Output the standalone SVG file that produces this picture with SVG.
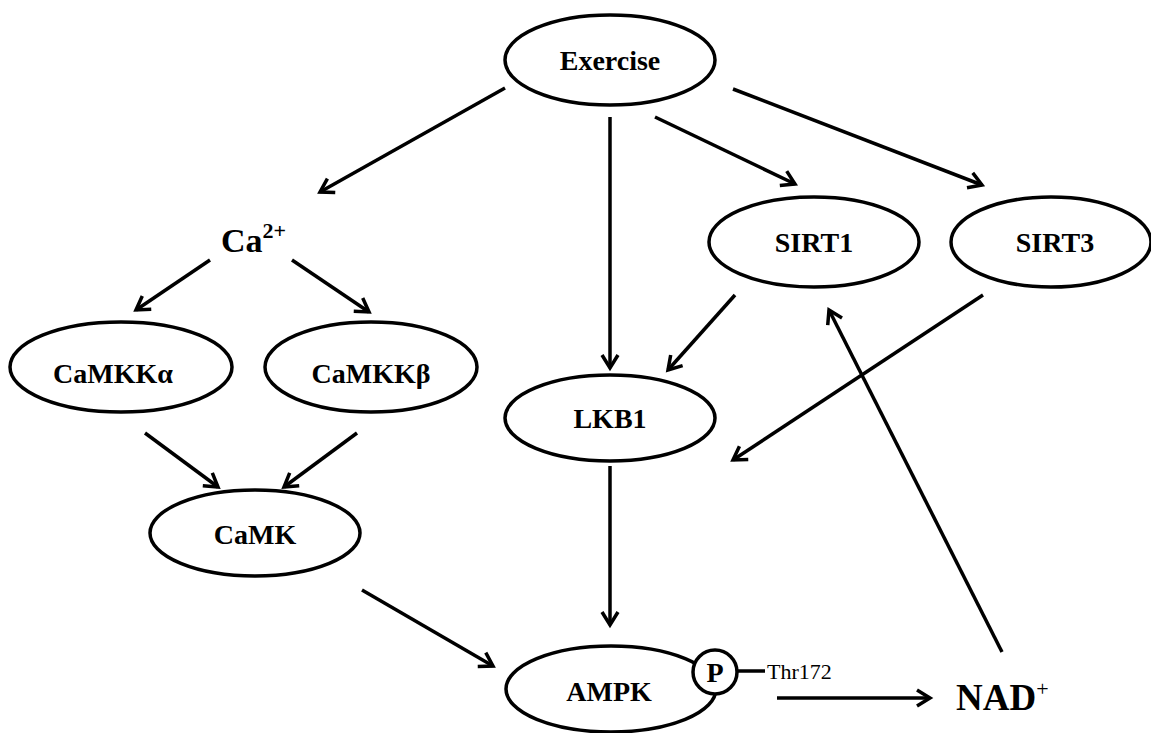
<svg xmlns="http://www.w3.org/2000/svg" width="1151" height="733" viewBox="0 0 1151 733">
<style>
.node{fill:#fff;stroke:#000;stroke-width:3.5}
.lbl{font-family:"Liberation Serif","Times New Roman",serif;font-weight:bold;font-size:28px;text-anchor:middle;fill:#000}
.con line{stroke:#000;stroke-width:3.5;marker-end:url(#arr)}
</style>
<defs>
<marker id="arr" markerUnits="userSpaceOnUse" viewBox="0 0 18 18" markerWidth="18" markerHeight="18" refX="15" refY="9" orient="auto" overflow="visible">
<path d="M2,1 L15,9 L2,17" fill="none" stroke="#000" stroke-width="3.5"/>
</marker>
</defs>
<rect width="1151" height="733" fill="#fff"/>
<g id="connectors" class="con">
<line x1="505" y1="88" x2="320" y2="192"/>
<line x1="610" y1="117" x2="610" y2="368"/>
<line x1="655" y1="117" x2="795" y2="184"/>
<line x1="733" y1="89" x2="982" y2="185"/>
<line x1="210" y1="260" x2="136" y2="310"/>
<line x1="292" y1="260" x2="369" y2="312"/>
<line x1="145" y1="433" x2="218" y2="487"/>
<line x1="357" y1="433" x2="284" y2="487"/>
<line x1="735" y1="295" x2="668" y2="370"/>
<line x1="983" y1="295" x2="733" y2="460"/>
<line x1="610" y1="466" x2="610" y2="625"/>
<line x1="362" y1="590" x2="493" y2="666"/>
<line x1="777" y1="698" x2="930" y2="698"/>
<line x1="1002" y1="652" x2="829" y2="310"/>
</g>
<g id="exercise"><ellipse class="node" cx="610" cy="60" rx="105" ry="45"/><text class="lbl" x="610" y="70">Exercise</text></g>
<g id="ca2"><text x="221" y="252" font-family="Liberation Serif,Times New Roman,serif" font-weight="bold" font-size="34">Ca<tspan font-size="22" dy="-14">2+</tspan></text></g>
<g id="camkka"><ellipse class="node" cx="121" cy="367" rx="111" ry="45"/><text class="lbl" x="113" y="383">CaMKKα</text></g>
<g id="camkkb"><ellipse class="node" cx="371" cy="367" rx="106" ry="45"/><text class="lbl" x="371" y="383">CaMKKβ</text></g>
<g id="camk"><ellipse class="node" cx="255" cy="533" rx="105" ry="43"/><text class="lbl" x="255" y="544">CaMK</text></g>
<g id="sirt1"><ellipse class="node" cx="814" cy="242" rx="105" ry="45"/><text class="lbl" x="814" y="252">SIRT1</text></g>
<g id="sirt3"><ellipse class="node" cx="1051" cy="242" rx="100" ry="45"/><text class="lbl" x="1055" y="252">SIRT3</text></g>
<g id="lkb1"><ellipse class="node" cx="610" cy="418" rx="105" ry="43"/><text class="lbl" x="610" y="428">LKB1</text></g>
<g id="ampk"><ellipse class="node" cx="611" cy="689" rx="105" ry="43"/><text class="lbl" x="609" y="701">AMPK</text>
<circle class="node" cx="715" cy="672" r="22"/><text class="lbl" x="715" y="682">P</text>
<line x1="737" y1="671" x2="765" y2="671" stroke="#000" stroke-width="3.5"/>
<text x="767" y="679" font-family="Liberation Serif,Times New Roman,serif" font-size="22">Thr172</text></g>
<g id="nad"><text x="956" y="710" font-family="Liberation Serif,Times New Roman,serif" font-weight="bold" font-size="37">NAD<tspan font-size="22" font-weight="normal" dy="-14">+</tspan></text></g>
</svg>
